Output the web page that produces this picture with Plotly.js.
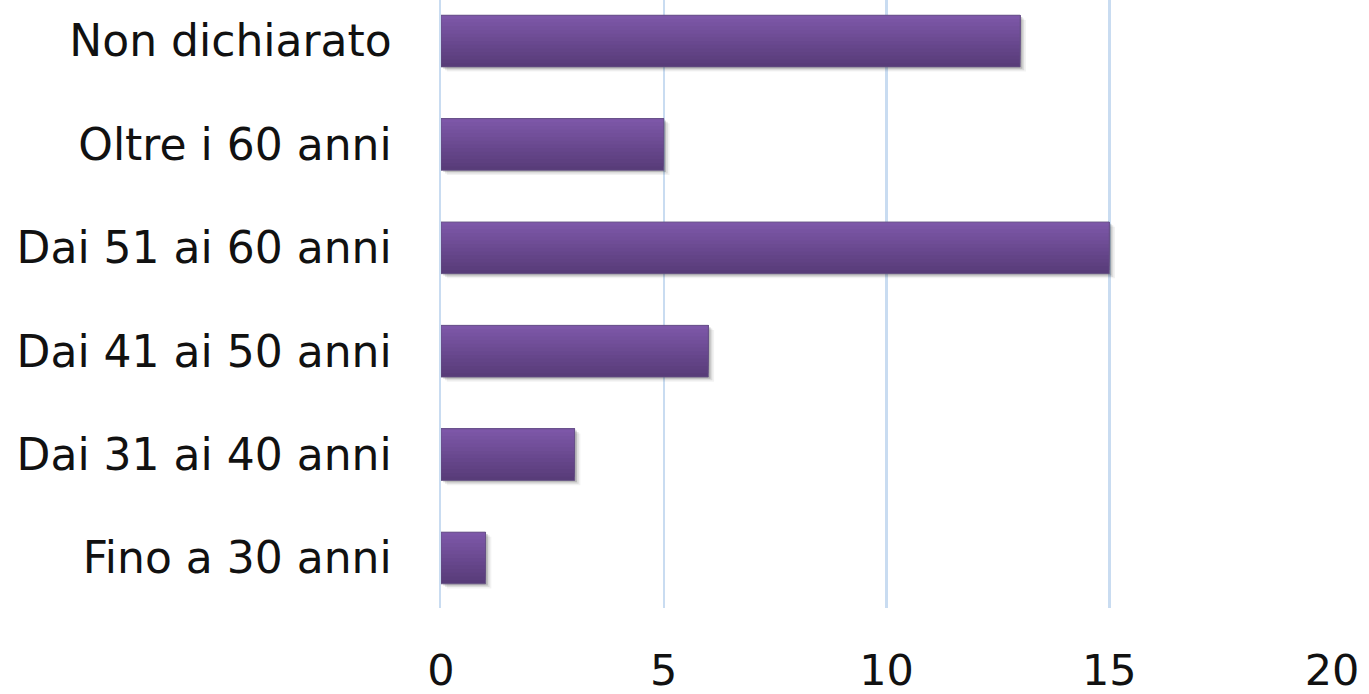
<!DOCTYPE html>
<html>
<head>
<meta charset="utf-8">
<script src="https://cdn.plot.ly/plotly-3.0.1.min.js"></script>
<style>
  html, body { margin: 0; padding: 0; background: #ffffff; }
  #chart { width: 1369px; height: 694px; }
</style>
</head>
<body>
<div id="chart"></div>
<script>
// Age groups of respondents (bottom to top)
const categories = [
  "Fino a 30 anni",
  "Dai 31 ai 40 anni",
  "Dai 41 ai 50 anni",
  "Dai 51 ai 60 anni",
  "Oltre i 60 anni",
  "Non dichiarato"
];
const counts = [1, 3, 6, 15, 5, 13];
const xTicks = [0, 5, 10, 15, 20];

const BAR_W = 0.5;
const STRIPS = 14;
const topRGB = [125, 87, 168];
const botRGB = [88, 60, 121];

function mix(t) {
  const c = topRGB.map((v, k) => Math.round(botRGB[k] + (v - botRGB[k]) * t));
  return `rgb(${c[0]},${c[1]},${c[2]})`;
}

const traces = [];

// soft drop shadow to the lower right of each bar
[[0.05, 0.16], [0.09, 0.09], [0.13, 0.05]].forEach(([shift, a]) => {
  traces.push({
    type: 'bar', orientation: 'h',
    y: categories, x: counts, base: shift,
    width: BAR_W, offset: -BAR_W / 2 - shift * 0.35,
    marker: { color: `rgba(0,0,0,${a})`, line: { width: 0 } },
    hoverinfo: 'skip', showlegend: false
  });
});

// vertical colour gradient: each layer runs from its own edge up to the top,
// lighter layers drawn over darker ones so no seams appear
const sw = BAR_W / STRIPS;
for (let i = 0; i < STRIPS; i++) {
  const t = i / (STRIPS - 1);
  traces.push({
    type: 'bar', orientation: 'h',
    y: categories, x: counts,
    width: BAR_W - i * sw, offset: -BAR_W / 2 + i * sw,
    marker: { color: mix(t), line: { width: 0 } },
    hoverinfo: 'skip', showlegend: false
  });
}

// thin outline around each bar
traces.push({
  type: 'bar', orientation: 'h',
  y: categories, x: counts,
  width: BAR_W, offset: -BAR_W / 2,
  marker: { color: 'rgba(0,0,0,0)', line: { color: 'rgba(100,82,130,0.8)', width: 1 } },
  showlegend: false
});

const layout = {
  width: 1369, height: 694,
  margin: { l: 441, r: 37, t: 0, b: 86 },
  paper_bgcolor: '#ffffff', plot_bgcolor: '#ffffff',
  barmode: 'overlay',
  showlegend: false,
  font: { family: 'DejaVu Sans, sans-serif', color: '#111111' },
  xaxis: {
    range: [0, 20],
    tickvals: xTicks,
    ticktext: xTicks.map(String),
    showgrid: true, gridcolor: '#c9dcf1', gridwidth: 2.5,
    zeroline: false, showline: false, ticks: '',
    tickfont: { size: 43, color: '#111111' },
    ticklabelstandoff: 33,
    fixedrange: true
  },
  yaxis: {
    type: 'category',
    categoryorder: 'array', categoryarray: categories,
    range: [-0.484, 5.397],
    showgrid: false, zeroline: false,
    showline: true, linecolor: '#c9dcf1', linewidth: 2.5,
    ticks: '',
    tickfont: { size: 44, color: '#111111' },
    ticklabelstandoff: 38,
    fixedrange: true
  }
};

Plotly.newPlot('chart', traces, layout, { staticPlot: true, displayModeBar: false });
</script>
</body>
</html>
